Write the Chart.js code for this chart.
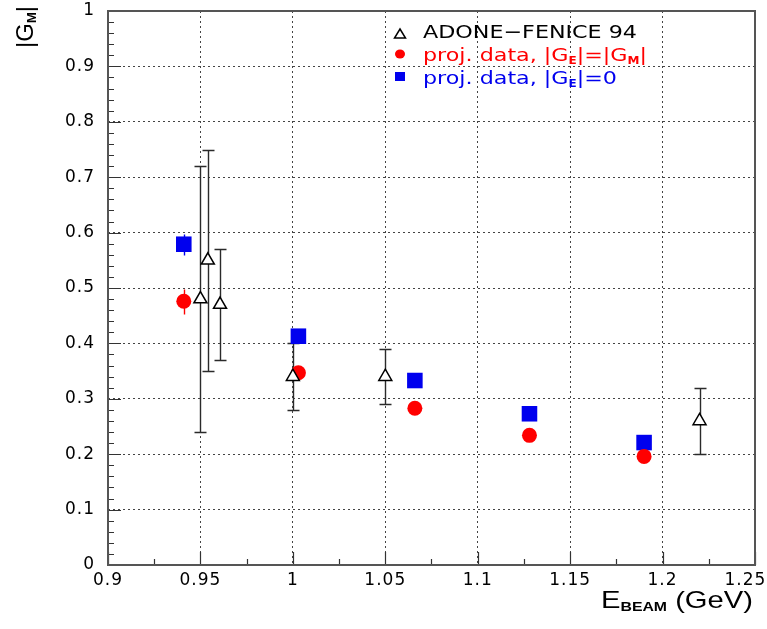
<!DOCTYPE html>
<html><head><meta charset="utf-8">
<script src="https://cdn.jsdelivr.net/npm/chart.js@4"></script>
<style>html,body{margin:0;padding:0;background:#fff}#wrap{width:767px;height:629px;position:relative}</style>
</head><body><div id="wrap"><canvas id="c" width="767" height="629" style="width:767px;height:629px"></canvas></div>
<script>
// ADONE-FENICE 94 points
const adoneX = [0.95, 0.954, 0.9606, 1.0, 1.05, 1.22];
const adoneY = [0.48, 0.55, 0.47, 0.34, 0.34, 0.26];
const adoneErr = [0.24, 0.20, 0.10, 0.06, 0.05, 0.06];
// projected data
const projX = [0.941, 1.003, 1.066, 1.128, 1.19];
const projEqY = [0.476, 0.347, 0.283, 0.234, 0.196];
const projEqErr = [0.023, 0.010, 0.008, 0.006, 0.005];
const projZeroY = [0.579, 0.413, 0.333, 0.273, 0.221];
const projZeroErr = [0.019, 0.012, 0.009, 0.007, 0.006];
// axes
const xTicks = [0.9, 0.95, 1, 1.05, 1.1, 1.15, 1.2, 1.25];
const yTicks = [0, 0.1, 0.2, 0.3, 0.4, 0.5, 0.6, 0.7, 0.8, 0.9, 1];

const FONT = "'DejaVu Sans', 'Liberation Sans', sans-serif";
const TFONT = "'Liberation Sans', Arial, sans-serif";

function pts(xs, ys){ return xs.map((x,i)=>({x:x, y:ys[i]})); }

const errBars = {
  id:'errBars',
  beforeDatasetsDraw(chart){
    const {ctx, scales:{x, y}} = chart;
    const sets = [
      {xs:adoneX, ys:adoneY, es:adoneErr, c:'#2a2a2a', cap:6},
      {xs:projX, ys:projEqY, es:projEqErr, c:'#ff0000', cap:0},
      {xs:projX, ys:projZeroY, es:projZeroErr, c:'#0000ee', cap:0}
    ];
    ctx.save();
    ctx.lineWidth = 1.4;
    sets.forEach(s=>{
      ctx.strokeStyle = s.c;
      s.xs.forEach((xv,i)=>{
        const px = Math.round(x.getPixelForValue(xv)) + 0.5;
        const top = Math.round(y.getPixelForValue(s.ys[i]+s.es[i])) + 0.5;
        const bot = Math.round(y.getPixelForValue(s.ys[i]-s.es[i])) + 0.5;
        ctx.beginPath();
        ctx.moveTo(px, top); ctx.lineTo(px, bot);
        if (s.cap){
          ctx.moveTo(px-s.cap, top); ctx.lineTo(px+s.cap, top);
          ctx.moveTo(px-s.cap, bot); ctx.lineTo(px+s.cap, bot);
        }
        ctx.stroke();
      });
    });
    ctx.restore();
  }
};

function runFont(size, sub, fam){
  const fs = sub ? Math.round(size*0.55) : size;
  return (sub ? 'bold ' : '') + fs + 'px ' + fam;
}
function measureRuns(ctx, runs, size, fam){
  let w = 0;
  runs.forEach(([t, sub])=>{ ctx.font = runFont(size, sub, fam); w += ctx.measureText(t).width; });
  return w;
}
function drawRuns(ctx, runs, x, y, size, color, fam, sx){
  ctx.save();
  ctx.translate(x, y);
  ctx.scale(sx || 1, 1);
  let cx = 0;
  runs.forEach(([t, sub])=>{
    ctx.font = runFont(size, sub, fam);
    ctx.fillStyle = color;
    ctx.fillText(t, cx, sub ? size*0.14 : 0);
    cx += ctx.measureText(t).width;
  });
  ctx.restore();
}

const spacing = {
  id:'spacing',
  beforeDraw(chart){ chart.ctx.letterSpacing = '1px'; },
  afterDatasetsDraw(chart){ chart.ctx.letterSpacing = '0px'; }
};

const legendRows = [
  {runs:[['ADONE\u2212FENICE 94', false]], color:'#000', base:38},
  {runs:[['proj. data, |G', false], ['E', true], ['|=|G', false], ['M', true], ['|', false]], color:'#ff0000', base:61},
  {runs:[['proj. data, |G', false], ['E', true], ['|=0', false]], color:'#0000ee', base:84}
];

const decor = {
  id:'decor',
  afterDraw(chart){
    const {ctx, chartArea:a, scales:{x, y}} = chart;
    ctx.save();
    ctx.letterSpacing = '0px';
    ctx.strokeStyle = '#333'; ctx.lineWidth = 1.2;
    ctx.beginPath();
    for (let v = 0; v <= 1.0001; v += 0.02){
      const py = Math.round(y.getPixelForValue(v)) + 0.5;
      const major = Math.abs(v*10 - Math.round(v*10)) < 1e-6;
      const len = major ? 13 : 6;
      ctx.moveTo(a.left, py); ctx.lineTo(a.left + len, py);
    }
    for (let v = 0.9; v <= 1.2501; v += 0.025){
      const px = Math.round(x.getPixelForValue(v)) + 0.5;
      const major = Math.abs(v*20 - Math.round(v*20)) < 1e-6;
      const len = major ? 13 : 6;
      ctx.moveTo(px, a.bottom); ctx.lineTo(px, a.bottom - len);
    }
    ctx.stroke();
    ctx.strokeStyle = '#555'; ctx.lineWidth = 2;
    ctx.strokeRect(a.left, a.top, a.right - a.left, a.bottom - a.top);

    // legend
    ctx.textBaseline = 'alphabetic'; ctx.textAlign = 'left';
    ctx.lineWidth = 1.5; ctx.strokeStyle = '#000'; ctx.fillStyle = '#fff';
    ctx.beginPath(); ctx.moveTo(400, 29); ctx.lineTo(405.5, 38); ctx.lineTo(394.5, 38); ctx.closePath();
    ctx.fill(); ctx.stroke();
    ctx.fillStyle = '#ff0000';
    ctx.beginPath(); ctx.ellipse(400, 54, 5, 4.5, 0, 0, Math.PI*2); ctx.fill();
    ctx.fillStyle = '#0000ee';
    ctx.fillRect(395, 72, 10, 9);
    const w0 = measureRuns(ctx, legendRows[0].runs, 18.5, FONT);
    const sx = 214 / w0;
    legendRows.forEach(r=> drawRuns(ctx, r.runs, 423, r.base, 18.5, r.color, FONT, sx));

    // x title
    const xr = [['E', false], ['BEAM', true], [' (GeV)', false]];
    const w = measureRuns(ctx, xr, 24, TFONT);
    const sxx = 152 / w;
    drawRuns(ctx, xr, 601, 608, 24, '#000', TFONT, sxx);

    // y title (rotated)
    ctx.save();
    ctx.translate(33, 48);
    ctx.rotate(-Math.PI/2);
    drawRuns(ctx, [['|G', false], ['M', true], ['|', false]], 0, 0, 24, '#000', TFONT, 1);
    ctx.restore();
    ctx.restore();
  }
};

new Chart(document.getElementById('c'), {
  type:'scatter',
  data:{
    datasets:[
      {label:'ADONE-FENICE 94', data:pts(adoneX, adoneY), pointStyle:'triangle', pointRadius:7.5,
       backgroundColor:'#fff', borderColor:'#000', borderWidth:1.5},
      {label:'proj. data, |GE|=|GM|', data:pts(projX, projEqY), pointStyle:'circle', pointRadius:7.5,
       backgroundColor:'#ff0000', borderColor:'#ff0000', borderWidth:0},
      {label:'proj. data, |GE|=0', data:pts(projX, projZeroY), pointStyle:'rect', pointRadius:11,
       backgroundColor:'#0000ee', borderColor:'#0000ee', borderWidth:0}
    ]
  },
  options:{
    responsive:false, animation:false, devicePixelRatio:1,
    layout:{padding:{top:9, right:12, left:0, bottom:0}},
    plugins:{legend:{display:false}, tooltip:{enabled:false}, title:{display:false}},
    scales:{
      x:{type:'linear', min:0.9, max:1.25,
        afterBuildTicks(s){ s.ticks = xTicks.map(v=>({value:v})); },
        afterFit(s){ s.height = 64; s.paddingLeft = 0; s.paddingRight = 0; },
        ticks:{color:'#000', font:{family:FONT, size:17}, padding:5, maxRotation:0, autoSkip:false,
          callback:v=>{ const t = String(+v.toFixed(2)); return v >= 1.2499 ? t + '\u00a0\u00a0\u00a0' : t; }},
        grid:{drawTicks:false, color:c=> (c.tick && (c.tick.value<=0.9001 || c.tick.value>=1.2499)) ? 'rgba(0,0,0,0)' : '#444', lineWidth:1},
        border:{display:false, dash:[2,3]}
      },
      y:{type:'linear', min:0, max:1,
        afterBuildTicks(s){ s.ticks = yTicks.map(v=>({value:v})); },
        afterFit(s){ s.width = 108; s.paddingTop = 0; s.paddingBottom = 0; },
        ticks:{color:'#000', font:{family:FONT, size:17}, padding:13, autoSkip:false,
          callback:v=>String(+v.toFixed(1))},
        grid:{drawTicks:false, color:c=> (c.tick && (c.tick.value<=0.0001 || c.tick.value>=0.9999)) ? 'rgba(0,0,0,0)' : '#444', lineWidth:1},
        border:{display:false, dash:[2,3]}
      }
    }
  },
  plugins:[spacing, errBars, decor]
});
</script>
</body></html>
